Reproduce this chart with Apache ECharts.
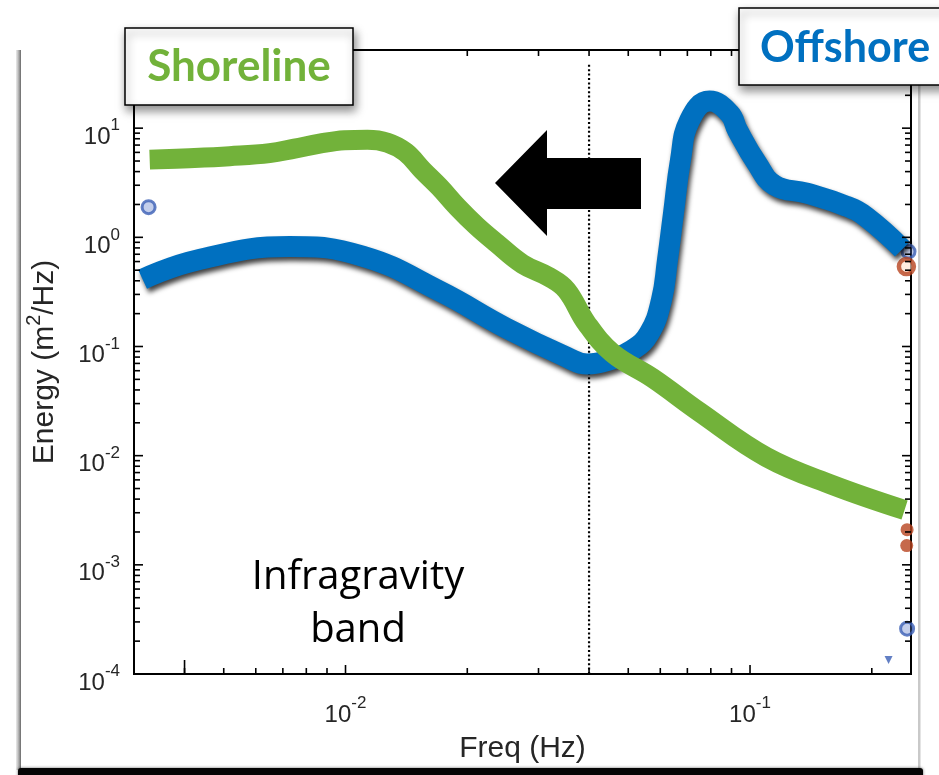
<!DOCTYPE html>
<html>
<head>
<meta charset="utf-8">
<script src="https://cdn.jsdelivr.net/npm/echarts@6/dist/echarts.min.js"></script>
<style>
  html, body { margin: 0; padding: 0; background: #fff; }
  #chart { width: 939px; height: 775px; }
</style>
</head>
<body>
<div id="chart"></div>
<script>
// Offshore spectrum: frequency (Hz) and energy density (m^2/Hz)
const offshoreFreq = [0.00315, 0.00428, 0.00727, 0.0110, 0.0171, 0.0250, 0.0352, 0.0396, 0.0457, 0.0512, 0.0564, 0.0604, 0.0625, 0.0647, 0.0673, 0.0709, 0.0794, 0.0889, 0.0931, 0.1038, 0.115, 0.138, 0.173, 0.194, 0.238];
const offshoreEnergy = [0.414, 0.618, 0.822, 0.673, 0.321, 0.147, 0.080, 0.069, 0.077, 0.093, 0.133, 0.266, 0.618, 1.67, 5.09, 11.8, 17.7, 13.7, 9.6, 4.8, 3.0, 2.54, 1.93, 1.53, 0.78];

// Shoreline spectrum
const shorelineFreq = [0.00328, 0.00411, 0.00517, 0.00649, 0.00748, 0.00863, 0.00994, 0.01133, 0.01270, 0.01407, 0.01550, 0.01708, 0.01891, 0.02108, 0.02362, 0.0274, 0.0319, 0.0352, 0.0394, 0.0457, 0.0574, 0.075, 0.1098, 0.160, 0.241];
const shorelineEnergy = [5.15, 5.31, 5.54, 5.90, 6.49, 7.21, 7.76, 7.85, 7.37, 6.03, 4.12, 2.88, 1.89, 1.27, 0.885, 0.569, 0.432, 0.328, 0.164, 0.087, 0.0514, 0.0251, 0.0097, 0.00538, 0.00318];

// Infragravity / sea-swell cutoff frequency and the extent of its marker line
const cutoffFreq = 0.04;
const cutoffEnergy = [1e-4, 40];

// Leftover plot markers near the axes
const offshoreMarkFreq = [0.00326, 0.2465, 0.2445];
const offshoreMarkEnergy = [1.89, 0.74, 0.00026];
const offshoreTriFreq = [0.22];
const offshoreTriEnergy = [0.000134];
const shoreRingFreq = [0.2435];
const shoreRingEnergy = [0.54];
const shoreBlobFreq = [0.2445, 0.2440];
const shoreBlobEnergy = [0.0021, 0.0015];

// Axis ranges
const xMin = 0.003, xMax = 0.25;
const yMin = 1e-4, yMax = 52;

const AXIS_FONT = '"Liberation Sans", Arial, Helvetica, sans-serif';
const AXIS_COLOR = '#262626';
const BLUE = '#0070c0';
const GREEN = '#72b23a';
const RED = '#b8431f';

// Log-scale tick values (1..9 per decade) inside a range
function logTicks(lo, hi) {
  const out = [];
  for (let d = Math.floor(Math.log10(lo)); d <= Math.ceil(Math.log10(hi)); d++) {
    for (let m = 1; m <= 9; m++) {
      const v = m * Math.pow(10, d);
      if (v >= lo * 1.0001 && v <= hi * 0.9999) out.push({ v: v, major: m === 1 });
    }
  }
  return out;
}
const xTicks = logTicks(xMin, xMax);
const yTicks = logTicks(yMin, yMax);
// a taller tick left on the bottom axis
const xLongTicks = [0.004];

function powerLabel(value) {
  const e = Math.log10(value);
  const r = Math.round(e);
  if (Math.abs(e - r) > 1e-6) return '';
  return '{b|10}{s|' + r + '}';
}
const labelRich = {
  b: { fontSize: 24, lineHeight: 32, verticalAlign: 'bottom', fontFamily: AXIS_FONT, color: AXIS_COLOR },
  s: { fontSize: 17, lineHeight: 14, verticalAlign: 'top', fontFamily: AXIS_FONT, color: AXIS_COLOR }
};

function zip(a, b) { return a.map((v, i) => [v, b[i]]); }

// Inward ticks on all four sides of the plot box
function renderTicks(params, api) {
  const cs = params.coordSys;
  const left = cs.x, right = cs.x + cs.width, top = cs.y, bottom = cs.y + cs.height;
  const children = [];
  const seg = (x1, y1, x2, y2) => children.push({
    type: 'line', shape: { x1: x1, y1: y1, x2: x2, y2: y2 },
    style: { stroke: '#000', lineWidth: 1.6 }
  });
  xTicks.forEach(t => {
    const px = api.coord([t.v, 1])[0];
    const len = t.major ? 9 : 6;
    seg(px, bottom, px, bottom - len);
    seg(px, top, px, top + len);
  });
  xLongTicks.forEach(v => {
    const px = api.coord([v, 1])[0];
    seg(px, bottom, px, bottom - 14);
  });
  yTicks.forEach(t => {
    const py = api.coord([0.01, t.v])[1];
    const len = t.major ? 9 : 6;
    seg(left, py, left + len, py);
    seg(right, py, right - len, py);
  });
  return { type: 'group', children: children };
}

const chart = echarts.init(document.getElementById('chart'));

const option = {
  backgroundColor: '#ffffff',
  animation: false,
  grid: {
    left: 134, right: 28, top: 50, bottom: 101,
    show: true, borderColor: '#000', borderWidth: 2, backgroundColor: 'transparent'
  },
  xAxis: {
    type: 'log', logBase: 10, min: xMin, max: xMax, splitNumber: 2,
    axisLine: { show: false },
    axisTick: { show: false },
    splitLine: { show: false },
    axisLabel: { formatter: powerLabel, rich: labelRich, margin: 21 },
    name: 'Freq (Hz)', nameLocation: 'middle', nameGap: 60,
    nameTextStyle: { fontSize: 30, fontFamily: AXIS_FONT, color: AXIS_COLOR }
  },
  yAxis: {
    type: 'log', logBase: 10, min: yMin, max: yMax,
    axisLine: { show: false },
    axisTick: { show: false },
    splitLine: { show: false },
    axisLabel: { formatter: powerLabel, rich: labelRich, margin: 14, padding: [10, 0, 0, 0] },
    name: '{n|Energy (m}{s|2}{n|/Hz)}', nameLocation: 'middle', nameGap: 74, nameRotate: 90,
    nameTextStyle: {
      rich: {
        n: { fontSize: 30, lineHeight: 36, verticalAlign: 'bottom', fontFamily: AXIS_FONT, color: AXIS_COLOR },
        s: { fontSize: 20, lineHeight: 18, verticalAlign: 'top', fontFamily: AXIS_FONT, color: AXIS_COLOR }
      }
    }
  },
  series: [
    {
      name: 'cutoff', type: 'line', silent: true, symbol: 'none',
      data: cutoffEnergy.map(e => [cutoffFreq, e]),
      lineStyle: { color: '#000', width: 2.2, type: [2, 2.4] },
      z: 1
    },
    {
      name: 'Offshore', type: 'line', silent: true, symbol: 'none', smooth: 0.45,
      data: zip(offshoreFreq, offshoreEnergy),
      lineStyle: {
        color: BLUE, width: 21, cap: 'butt', join: 'round',
        shadowColor: 'rgba(0,0,0,0.75)', shadowBlur: 5, shadowOffsetX: 2, shadowOffsetY: 4
      },
      z: 2
    },
    {
      name: 'Shoreline', type: 'line', silent: true, symbol: 'none', smooth: 0.4,
      data: zip(shorelineFreq, shorelineEnergy),
      lineStyle: { color: GREEN, width: 20, cap: 'butt', join: 'round' },
      z: 3
    },
    {
      name: 'offshoreMarks', type: 'scatter', silent: true, symbol: 'circle', symbolSize: 13,
      data: zip(offshoreMarkFreq, offshoreMarkEnergy),
      itemStyle: { color: 'rgba(90,120,200,0.45)', borderColor: '#3b5fb5', borderWidth: 3 },
      z: 1
    },
    {
      name: 'offshoreTri', type: 'scatter', silent: true, symbol: 'triangle', symbolRotate: 180, symbolSize: 8,
      data: zip(offshoreTriFreq, offshoreTriEnergy),
      itemStyle: { color: '#3b5fb5' },
      z: 1
    },
    {
      name: 'shoreRing', type: 'scatter', silent: true, symbol: 'circle', symbolSize: 15,
      data: zip(shoreRingFreq, shoreRingEnergy),
      itemStyle: { color: 'rgba(255,225,205,0.8)', borderColor: RED, borderWidth: 4.5 },
      z: 1
    },
    {
      name: 'shoreBlob', type: 'scatter', silent: true, symbol: 'circle', symbolSize: 13,
      data: zip(shoreBlobFreq, shoreBlobEnergy),
      itemStyle: { color: RED },
      z: 1
    },
    {
      name: 'ticks', type: 'custom', silent: true,
      data: [[0.01, 1]],
      renderItem: renderTicks,
      z: 4
    }
  ],
  graphic: [
    // image frame with drop shadow
    { type: 'rect', z: 0, silent: true, shape: { x: 16, y: 50, width: 5, height: 720 },
      style: { fill: new echarts.graphic.LinearGradient(0, 0, 1, 0, [
        { offset: 0, color: 'rgba(150,150,150,0.2)' }, { offset: 1, color: 'rgba(95,95,95,0.95)' }]) } },
    { type: 'rect', z: 0, silent: true, shape: { x: 918, y: 50, width: 2.5, height: 720 },
      style: { fill: '#c9c9c9' } },
    { type: 'rect', z: 0, silent: true, shape: { x: 18, y: 768, width: 905, height: 12, r: 3 },
      style: { fill: '#050505', shadowBlur: 3, shadowColor: 'rgba(0,0,0,0.6)' } },

    // direction arrow
    { type: 'polygon', z: 50, silent: true,
      shape: { points: [[495, 183], [547, 130], [547, 158], [641, 158], [641, 209], [547, 209], [547, 236]] },
      style: { fill: '#000' } },

    // Shoreline tag
    { type: 'rect', z: 60, silent: true, shape: { x: 125, y: 28, width: 228, height: 77 },
      style: { fill: '#fff', stroke: '#000', lineWidth: 1.5,
        shadowBlur: 9, shadowColor: 'rgba(0,0,0,0.45)', shadowOffsetX: 2, shadowOffsetY: 5 } },
    { type: 'text', z: 61, silent: true, x: 239, y: 67,
      style: { text: 'Shoreline', fill: GREEN, fontSize: 44, fontWeight: 'bold', fontFamily: 'Lato',
        align: 'center', verticalAlign: 'middle', textAlign: 'center', textVerticalAlign: 'middle' } },

    // Offshore tag
    { type: 'rect', z: 60, silent: true, shape: { x: 739, y: 8, width: 215, height: 77 },
      style: { fill: '#fff', stroke: '#000', lineWidth: 1.5,
        shadowBlur: 9, shadowColor: 'rgba(0,0,0,0.45)', shadowOffsetX: 2, shadowOffsetY: 5 } },
    { type: 'text', z: 61, silent: true, x: 760, y: 48,
      style: { text: 'Offshore', fill: BLUE, fontSize: 43, fontWeight: 'bold', fontFamily: 'Lato',
        align: 'left', verticalAlign: 'middle', textAlign: 'left', textVerticalAlign: 'middle' } },

    // band annotation
    { type: 'text', z: 40, silent: true, x: 358, y: 604,
      style: { text: 'Infragravity\nband', fill: '#000', fontSize: 40, fontFamily: '"Open Sans"', lineHeight: 53,
        align: 'center', verticalAlign: 'middle', textAlign: 'center', textVerticalAlign: 'middle' } }
  ]
};

chart.setOption(option);
</script>
</body>
</html>
